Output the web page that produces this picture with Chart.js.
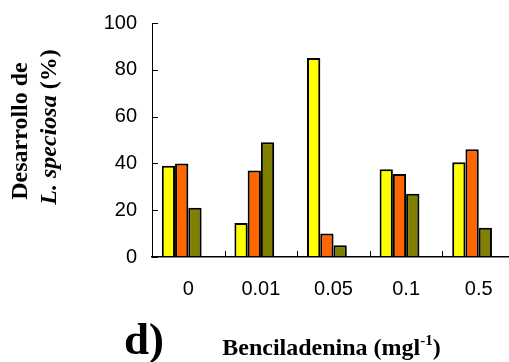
<!DOCTYPE html>
<html>
<head>
<meta charset="utf-8">
<script src="https://cdn.jsdelivr.net/npm/chart.js@4/dist/chart.umd.min.js"></script>
<style>
  html, body { margin: 0; padding: 0; background: #fff; overflow: hidden; }
  #wrap { width: 515px; height: 362px; }
</style>
</head>
<body>
<div id="wrap"><canvas id="chart" width="515" height="362"></canvas></div>
<script>
// concentraciones de benciladenina
const categories = ["0", "0.01", "0.05", "0.1", "0.5"];
const serieA = [39, 14.5, 85, 37.5, 40.5];   // amarillo
const serieB = [40, 37, 10, 35.5, 46];       // naranja
const serieC = [21, 49, 5, 27, 12.5];        // oliva
const serieVacia = [null, null, null, null, null]; // hueco de la 4a barra
const yTicks = [0, 20, 40, 60, 80, 100];

const serif = '"Liberation Serif", "Times New Roman", serif';

// dibuja varios trozos de texto seguidos (para cursiva y superindice)
function drawParts(ctx, parts, x, y, align) {
    let w = 0;
    parts.forEach(p => { ctx.font = p.font; w += ctx.measureText(p.text).width; });
    let cx = align === "center" ? x - w / 2 : x;
    parts.forEach(p => {
        ctx.font = p.font;
        ctx.fillText(p.text, cx, y + (p.dy || 0));
        cx += ctx.measureText(p.text).width;
    });
}

const shadow = {
    id: "shadow",
    beforeDatasetsDraw(chart) {
        const ctx = chart.ctx;
        ctx.save();
        ctx.shadowColor = "rgba(0,0,0,0.28)";
        ctx.shadowOffsetX = 2;
        ctx.shadowOffsetY = 1;
        ctx.shadowBlur = 1;
    },
    afterDatasetsDraw(chart) {
        chart.ctx.restore();
    }
};

const extras = {
    id: "extras",
    afterDraw(chart) {
        const ctx = chart.ctx;
        const area = chart.chartArea;
        const x = chart.scales.x;
        const y = chart.scales.y;

        ctx.save();
        ctx.strokeStyle = "#000";
        ctx.lineWidth = 1;
        // marcas hacia dentro
        yTicks.forEach(v => {
            const py = Math.round(y.getPixelForValue(v)) + 0.5;
            ctx.beginPath();
            ctx.moveTo(area.left, py);
            ctx.lineTo(area.left + 6, py);
            ctx.stroke();
        });
        for (let i = 1; i < categories.length; i++) {
            const px = Math.round((x.getPixelForValue(i - 1) + x.getPixelForValue(i)) / 2) + 0.5;
            ctx.beginPath();
            ctx.moveTo(px, area.bottom);
            ctx.lineTo(px, area.bottom - 6);
            ctx.stroke();
        }

        ctx.fillStyle = "#000";
        ctx.textBaseline = "alphabetic";
        ctx.textAlign = "left";

        // d)
        drawParts(ctx, [{ text: "d)", font: "bold 45px " + serif }], 124, 354, "left");

        // titulo eje x
        const cx = (area.left + area.right) / 2 - 2;
        drawParts(ctx, [
            { text: "Benciladenina (mgl", font: "bold 24px " + serif },
            { text: "-1", font: "bold 15px " + serif, dy: -10 },
            { text: ")", font: "bold 24px " + serif }
        ], cx, 355, "center");

        // titulo eje y (dos lineas giradas)
        ctx.save();
        ctx.rotate(-Math.PI / 2);
        drawParts(ctx, [{ text: "Desarrollo de", font: "bold 24px " + serif }], -131, 27, "center");
        drawParts(ctx, [
            { text: "L. speciosa", font: "italic bold 24px " + serif },
            { text: " (%)", font: "bold 24px " + serif }
        ], -127, 56, "center");
        ctx.restore();

        ctx.restore();
    }
};

const barStyle = { borderColor: "#000", borderWidth: 2 };

new Chart(document.getElementById("chart"), {
    type: "bar",
    data: {
        labels: categories,
        datasets: [
            Object.assign({ data: serieA, backgroundColor: "#ffff00" }, barStyle),
            Object.assign({ data: serieB, backgroundColor: "#ff6600" }, barStyle),
            Object.assign({ data: serieC, backgroundColor: "#808000" }, barStyle),
            Object.assign({ data: serieVacia, backgroundColor: "#ffffff" }, barStyle)
        ]
    },
    options: {
        responsive: false,
        animation: false,
        devicePixelRatio: 1,
        categoryPercentage: 0.73,
        barPercentage: 1,
        layout: { padding: { top: 23, left: 0, right: 0, bottom: 0 } },
        plugins: {
            legend: { display: false },
            tooltip: { enabled: false }
        },
        scales: {
            x: {
                grid: { display: false, drawTicks: false },
                border: { display: true, color: "#000", width: 1.5, z: 1 },
                ticks: {
                    color: "#000",
                    padding: 20,
                    font: { family: '"Liberation Sans", Arial, sans-serif', size: 20 }
                },
                afterFit: s => { s.height = 105; }
            },
            y: {
                min: 0,
                max: 100,
                grid: { display: false, drawTicks: false },
                border: { display: true, color: "#000", width: 1 },
                ticks: {
                    stepSize: 20,
                    color: "#000",
                    padding: 15,
                    font: { family: '"Liberation Sans", Arial, sans-serif', size: 20 }
                },
                afterFit: s => {
                    s.width = 152;
                    s.paddingTop = 0;
                    s.paddingBottom = 0;
                }
            }
        }
    },
    plugins: [shadow, extras]
});
</script>
</body>
</html>
